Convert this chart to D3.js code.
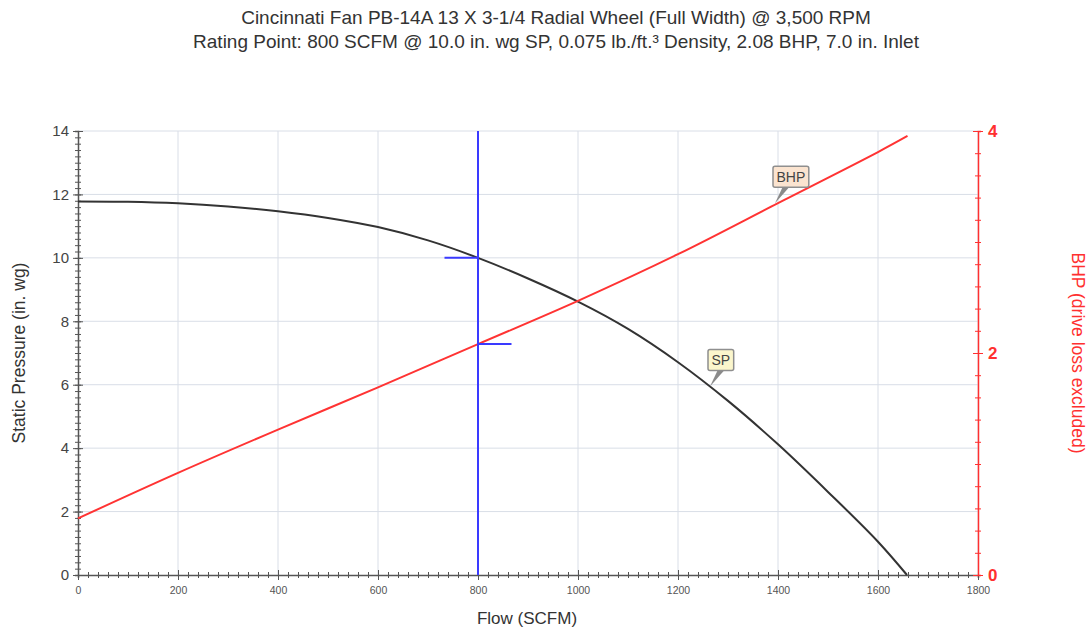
<!DOCTYPE html>
<html lang="en">
<head>
<meta charset="UTF-8" />
<title>Fan Curve</title>
<style>
  body { margin: 0; background: #ffffff; font-family: 'Liberation Sans', Arial, sans-serif; }
  .grid line { stroke: #d9dee7; stroke-width: 1; }
  .axis path { stroke: #555; }
  .axis line { stroke: #555; }
  .axis text { fill: #444; }
  .raxis path, .raxis line { stroke: #ff3030; }
  .raxis text { fill: #ff3030; }
</style>
<script src="https://d3js.org/d3.v7.min.js"></script>
</head>
<body>
<div id="chart"></div>
<script>
  // Titres
  const titleLines = [
    'Cincinnati Fan PB-14A 13 X 3-1/4 Radial Wheel (Full Width) @ 3,500 RPM',
    'Rating Point: 800 SCFM @ 10.0 in. wg SP, 0.075 lb./ft.\u00B3 Density, 2.08 BHP, 7.0 in. Inlet'
  ];

  // Courbe SP (flow en SCFM, pression statique en in. wg)
  const spFlow   = [0, 100, 200, 300, 400, 500, 600, 700, 800, 900, 1000, 1100, 1200, 1300, 1400, 1500, 1600, 1658];
  const spValues = [11.78, 11.77, 11.72, 11.62, 11.47, 11.26, 10.97, 10.55, 10.0, 9.35, 8.62, 7.76, 6.71, 5.49, 4.12, 2.62, 1.05, 0];

  // Courbe BHP
  const bhpFlow   = [0, 200, 400, 600, 800, 1000, 1200, 1400, 1600, 1659];
  const bhpValues = [0.51, 0.92, 1.31, 1.69, 2.08, 2.47, 2.89, 3.35, 3.81, 3.955];

  // Point de fonctionnement
  const ratingFlow = 800, ratingSP = 10.0, ratingBHP = 2.08;

  // Ticks
  const xTicks = [0, 200, 400, 600, 800, 1000, 1200, 1400, 1600, 1800];
  const yTicks = [0, 2, 4, 6, 8, 10, 12, 14];
  const rTicks = [0, 2, 4];

  // Étiquettes des courbes
  const callouts = [
    { text: 'SP',  flow: 1264, value: 5.94, axis: 'sp',  fill: '#fbf6cc' },
    { text: 'BHP', flow: 1394, value: 3.35, axis: 'bhp', fill: '#fbe4d0' }
  ];

  const width = 1089, height = 630;
  const m = { left: 78, right: 111, top: 131, bottom: 55 };

  const svg = d3.select('#chart').append('svg')
    .attr('width', width).attr('height', height);

  const x = d3.scaleLinear().domain([0, 1800]).range([m.left, width - m.right]);
  const y = d3.scaleLinear().domain([0, 14]).range([height - m.bottom, m.top]);
  const yr = d3.scaleLinear().domain([0, 4]).range([height - m.bottom, m.top]);

  // Titre
  svg.selectAll('.title').data(titleLines).enter().append('text')
    .attr('x', 556).attr('y', (d, i) => 24 + i * 24)
    .attr('text-anchor', 'middle')
    .style('font-size', '19px').style('fill', '#333')
    .text(d => d);

  // Grille
  const grid = svg.append('g').attr('class', 'grid');
  grid.selectAll('.gx').data(xTicks.slice(1)).enter().append('line')
    .attr('x1', d => x(d)).attr('x2', d => x(d))
    .attr('y1', y(0)).attr('y2', y(14));
  grid.selectAll('.gy').data(yTicks.slice(1)).enter().append('line')
    .attr('x1', x(0)).attr('x2', x(1800))
    .attr('y1', d => y(d)).attr('y2', d => y(d));

  // Axe X : ticks mineurs + majeurs
  const xMinor = svg.append('g').attr('class', 'axis')
    .attr('transform', `translate(0,${y(0)})`)
    .call(d3.axisBottom(x).tickValues(d3.range(0, 1801, 20)).tickSize(3).tickFormat(''));
  xMinor.selectAll('.tick line').attr('y1', -3);
  xMinor.select('.domain').attr('stroke-width', 1.5);
  const xMajor = svg.append('g').attr('class', 'axis')
    .attr('transform', `translate(0,${y(0)})`)
    .call(d3.axisBottom(x).tickValues(xTicks).tickSize(5).tickFormat(d3.format('d')));
  xMajor.select('.domain').remove();
  xMajor.selectAll('.tick line').attr('y1', -5);
  xMajor.selectAll('text').attr('dy', '1.05em').style('font-size', '10.5px').style('fill', '#555');

  // Axe Y gauche
  const yMinor = svg.append('g').attr('class', 'axis')
    .attr('transform', `translate(${x(0)},0)`)
    .call(d3.axisLeft(y).tickValues(d3.range(0, 70.5, 1).map(v => v / 5)).tickSize(3).tickFormat(''));
  yMinor.selectAll('.tick line').attr('x1', 3);
  yMinor.select('.domain').attr('stroke-width', 1.5);
  const yMajor = svg.append('g').attr('class', 'axis')
    .attr('transform', `translate(${x(0)},0)`)
    .call(d3.axisLeft(y).tickValues(yTicks).tickSize(5));
  yMajor.select('.domain').remove();
  yMajor.selectAll('.tick line').attr('x1', 5);
  yMajor.selectAll('text').attr('x', -9).style('font-size', '15px').style('fill', '#444');

  // Axe Y droit (BHP)
  const rMinor = svg.append('g').attr('class', 'raxis')
    .attr('transform', `translate(${x(1800)},0)`)
    .call(d3.axisRight(yr).tickValues(d3.range(0, 20.5, 1).map(v => v / 5)).tickSize(3).tickFormat(''));
  rMinor.selectAll('.tick line').attr('x1', -3);
  rMinor.select('.domain').attr('stroke-width', 1.5);
  const rMajor = svg.append('g').attr('class', 'raxis')
    .attr('transform', `translate(${x(1800)},0)`)
    .call(d3.axisRight(yr).tickValues(rTicks).tickSize(5).tickFormat(d3.format('d')));
  rMajor.select('.domain').remove();
  rMajor.selectAll('.tick line').attr('x1', -5);
  rMajor.selectAll('text').attr('x', 10).style('font-size', '17px').style('font-weight', 'bold');

  // Titres d'axes
  svg.append('text')
    .attr('x', 527).attr('y', 624)
    .attr('text-anchor', 'middle')
    .style('font-size', '17px').style('fill', '#333')
    .text('Flow (SCFM)');
  svg.append('text')
    .attr('transform', `translate(25,${y(7)}) rotate(-90)`)
    .attr('text-anchor', 'middle')
    .style('font-size', '17.5px').style('fill', '#333')
    .text('Static Pressure (in. wg)');
  svg.append('text')
    .attr('transform', `translate(1072,${y(7)}) rotate(90)`)
    .attr('text-anchor', 'middle')
    .style('font-size', '17.5px').style('fill', '#ff3030')
    .text('BHP (drive loss excluded)');

  // Courbes
  const spLine = d3.line()
    .x((d, i) => x(spFlow[i]))
    .y(d => y(d))
    .curve(d3.curveCatmullRom);
  svg.append('path')
    .attr('d', spLine(spValues))
    .attr('fill', 'none').attr('stroke', '#333').attr('stroke-width', 2);

  const bhpLine = d3.line()
    .x((d, i) => x(bhpFlow[i]))
    .y(d => yr(d))
    .curve(d3.curveCatmullRom);
  svg.append('path')
    .attr('d', bhpLine(bhpValues))
    .attr('fill', 'none').attr('stroke', '#ff3333').attr('stroke-width', 2);

  // Marqueur du point de fonctionnement
  const blue = '#3a3aff';
  svg.append('line')
    .attr('x1', x(ratingFlow)).attr('x2', x(ratingFlow))
    .attr('y1', y(0)).attr('y2', y(14))
    .attr('stroke', blue).attr('stroke-width', 2);
  svg.append('line')
    .attr('x1', x(ratingFlow - 67)).attr('x2', x(ratingFlow))
    .attr('y1', y(ratingSP)).attr('y2', y(ratingSP))
    .attr('stroke', blue).attr('stroke-width', 2);
  svg.append('line')
    .attr('x1', x(ratingFlow)).attr('x2', x(ratingFlow + 67))
    .attr('y1', yr(ratingBHP)).attr('y2', yr(ratingBHP))
    .attr('stroke', blue).attr('stroke-width', 2);

  // Bulles d'étiquettes
  callouts.forEach(c => {
    const ax = x(c.flow);
    const ay = c.axis === 'sp' ? y(c.value) : yr(c.value);
    const g = svg.append('g');
    const t = g.append('text')
      .style('font-size', '14px').style('fill', '#444')
      .text(c.text);
    const w = t.node().getComputedTextLength() + 7;
    const bx = ax - 2, by = ay - 37, bh = 21;
    g.insert('polygon', 'text')
      .attr('points', [[bx + 10, by + bh - 1], [bx + 17, by + bh - 1], [ax, ay]].map(p => p.join(',')).join(' '))
      .attr('fill', '#8a8a8a');
    g.insert('rect', 'text')
      .attr('x', bx).attr('y', by).attr('width', w).attr('height', bh)
      .attr('rx', 2)
      .attr('fill', c.fill).attr('stroke', '#8f8f8f').attr('stroke-width', 1.5);
    t.attr('x', bx + 3.5).attr('y', by + 15.5);
  });
</script>
</body>
</html>
